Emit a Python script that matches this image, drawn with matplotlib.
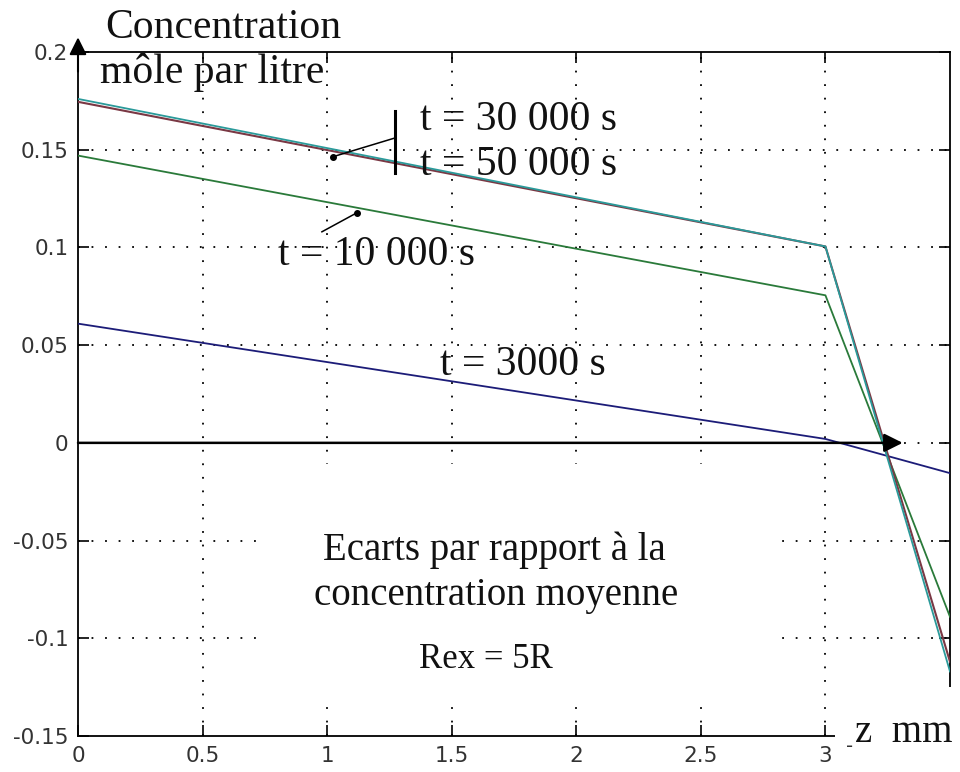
import matplotlib
matplotlib.use("Agg")
import matplotlib.pyplot as plt
from matplotlib.patches import Rectangle

# ---- data ----
z_mm = [0.0, 3.0, 3.5]
c_3000 = [0.061, 0.002, -0.0155]
c_10000 = [0.147, 0.0755, -0.089]
c_30000 = [0.1745, 0.1005, -0.112]
c_50000 = [0.1760, 0.1005, -0.117]

xticks = [0, 0.5, 1, 1.5, 2, 2.5, 3]
xticklabels = ["0", "0.5", "1", "1.5", "2", "2.5", "3"]
yticks = [-0.15, -0.1, -0.05, 0, 0.05, 0.1, 0.15, 0.2]
yticklabels = ["-0.15", "-0.1", "-0.05", "0", "0.05", "0.1", "0.15", "0.2"]

serif = "Liberation Serif"

fig = plt.figure(figsize=(9.6, 7.72), dpi=100)
ax = fig.add_axes([78/960, 1-736/772, (950-78)/960, (736-52)/772])
ax.set_xlim(0, 3.5)
ax.set_ylim(-0.15, 0.2)

# grid (dotted, MATLAB-like)
for xv in xticks[1:]:
    ax.axvline(xv, color="k", lw=1.3, ls=(0, (1, 6.5)), zorder=1)
for yv in yticks[1:-1]:
    ax.axhline(yv, color="k", lw=1.3, ls=(0, (1, 6.5)), zorder=1)

# white area erasing the grid behind the central caption
ax.add_patch(Rectangle((0.72, -0.135), 2.06, 0.124, facecolor="white",
                       edgecolor="none", zorder=1.5))

# curves
ax.plot(z_mm, c_3000, color="#1c1c78", lw=1.3, zorder=3)
ax.plot(z_mm, c_10000, color="#2a7a3a", lw=1.3, zorder=3)
ax.plot(z_mm, c_30000, color="#7a3844", lw=1.5, zorder=3)
ax.plot(z_mm, c_50000, color="#2a9a9a", lw=1.3, zorder=3.1)

# zero axis with arrow
ax.annotate("", xy=(3.31, 0), xytext=(0, 0),
            arrowprops=dict(arrowstyle="-|>", lw=1.8, color="k",
                            mutation_scale=28, shrinkA=0, shrinkB=0),
            zorder=4)
# y-axis arrow
ax.annotate("", xy=(0, 0.2075), xytext=(0, 0.19),
            arrowprops=dict(arrowstyle="-|>", lw=1.5, color="k",
                            mutation_scale=26, shrinkA=0, shrinkB=0),
            zorder=5, annotation_clip=False)

# leader lines
ax.plot([1.023, 1.272], [0.1464, 0.156], color="k", lw=1.1, zorder=4)
ax.plot([1.023], [0.1464], marker="o", ms=4, color="k", zorder=4)
ax.plot([1.272, 1.272], [0.170, 0.138], color="k", lw=2.2, zorder=4)
ax.plot([1.119, 0.979], [0.1177, 0.108], color="k", lw=1.1, zorder=4)
ax.plot([1.119], [0.1177], marker="o", ms=4, color="k", zorder=4)

# texts
tk = dict(family=serif, color="#111111", va="baseline", zorder=6)
ax.text(0.582, 0.2072, "Concentration", ha="center", clip_on=False,
        fontsize=30, **tk)
ax.text(0.538, 0.1842, "môle par litre", ha="center", fontsize=30, **tk)
ax.text(1.373, 0.160, "t = 30 000 s", ha="left", fontsize=30, **tk)
ax.text(1.373, 0.137, "t = 50 000 s", ha="left", fontsize=30, **tk)
ax.text(0.803, 0.091, "t = 10 000 s", ha="left", fontsize=30, **tk)
ax.text(1.453, 0.0347, "t = 3000 s", ha="left", fontsize=30, **tk)
ax.text(1.672, -0.0599, "Ecarts par rapport à la", ha="center",
        fontsize=28, **tk)
ax.text(1.678, -0.0829, "concentration moyenne", ha="center",
        fontsize=28, **tk)
ax.text(1.638, -0.1151, "Rex = 5R", ha="center", fontsize=25, **tk)

# ticks
ax.set_xticks(xticks)
ax.set_xticklabels(xticklabels)
ax.set_yticks(yticks)
ax.set_yticklabels(yticklabels)
ax.tick_params(direction="in", length=8, width=1.2, top=True, right=True,
               labelsize=15.5, labelcolor="#333333", pad=7)
for sp in ax.spines.values():
    sp.set_linewidth(1.3)

# white box at bottom right for the axis label
fig.patches.append(Rectangle((835/960, 0), 125/960, (772-687)/772,
                             transform=fig.transFigure, facecolor="white",
                             edgecolor="none", zorder=5))
fig.text(855/960, 1-742/772, "z  mm", family=serif, fontsize=28,
         color="#111111", va="baseline", ha="left", zorder=6)
fig.text(846/960, 1-752/772, "-", family="DejaVu Sans", fontsize=14,
         color="#333333", va="baseline", ha="left", zorder=6)

fig.savefig("out.png", dpi=100)
